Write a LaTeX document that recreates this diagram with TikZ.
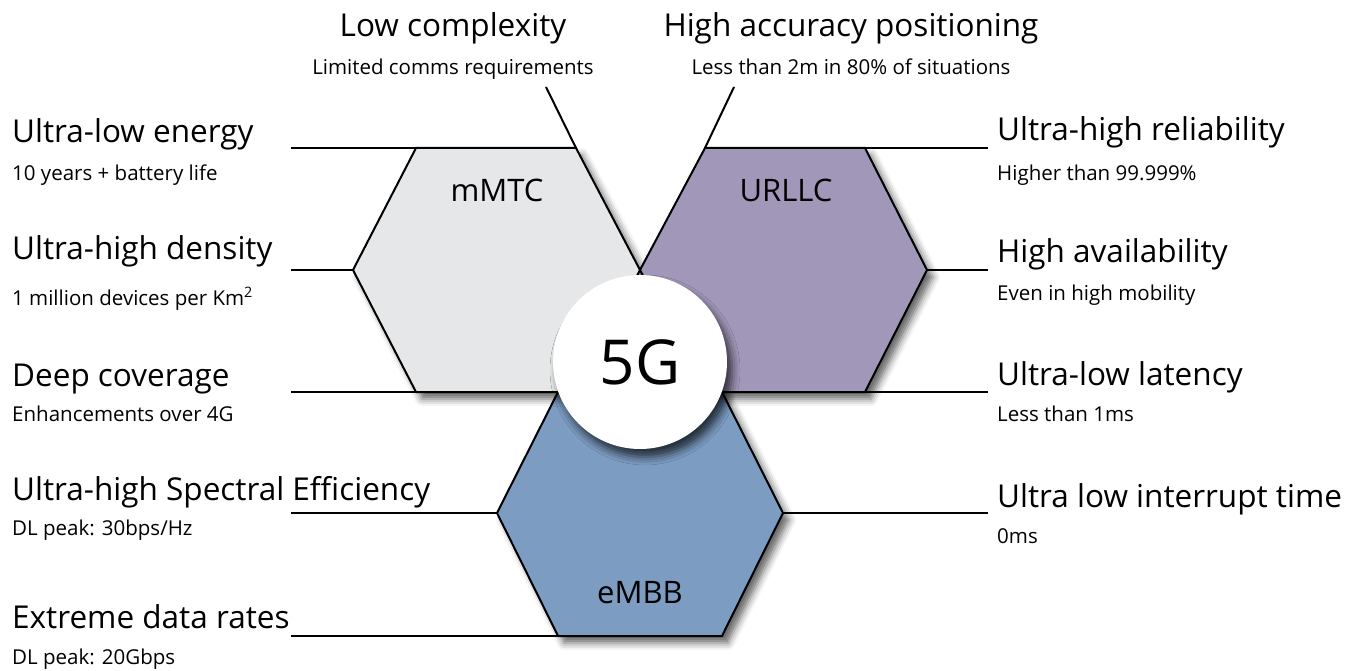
\documentclass[tikz,border=0pt]{standalone}
\usepackage{fontspec}
\setmainfont{Open Sans}
\usetikzlibrary{shadows.blur}
\definecolor{mmtcgray}{RGB}{230,231,232}
\definecolor{urllcpurple}{RGB}{161,151,185}
\definecolor{embbblue}{RGB}{124,156,194}
\tikzset{
  HeadStyle/.style = { anchor = base west, inner sep = 0pt,
                       font = \fontsize{31.5}{34}\selectfont },
  SubStyle/.style = { anchor = base west, inner sep = 0pt,
                      font = \fontsize{20.5}{23}\selectfont },
  HexStyle/.style = { draw, line width = 2pt,
                      blur shadow = {shadow xshift = 6pt, shadow yshift = -7pt,
                                     shadow blur radius = 7pt, shadow opacity = 60} },
  LeadStyle/.style = { line width = 2pt } }

\begin{document}
\begin{tikzpicture}[x=1pt,y=-1pt]
  \useasboundingbox (0,0) rectangle (1356,671);
  \tikzstyle{HexLabel}=[font = \fontsize{31}{34}\selectfont]

  \coordinate (m1) at (416,148);
  \coordinate (m2) at (576,148);
  \coordinate (m3) at (640,270);
  \coordinate (m4) at (576,392);
  \coordinate (m5) at (416,392);
  \coordinate (m6) at (353,270);

  \coordinate (u1) at (705,148);
  \coordinate (u2) at (865,148);
  \coordinate (u3) at (927,270);
  \coordinate (u4) at (865,392);
  \coordinate (u5) at (705,392);
  \coordinate (u6) at (640,270);

  \coordinate (e1) at (558,392);
  \coordinate (e2) at (722,392);
  \coordinate (e3) at (783,513);
  \coordinate (e4) at (722,636);
  \coordinate (e5) at (558,636);
  \coordinate (e6) at (497,513);

  \coordinate (l1) at (291,148);
  \coordinate (l2) at (291,270);
  \coordinate (l3) at (291,392);
  \coordinate (l4) at (291,513);
  \coordinate (l5) at (291,636);
  \coordinate (r1) at (988,148);
  \coordinate (r2) at (988,270);
  \coordinate (r3) at (988,392);
  \coordinate (r4) at (988,513);
  \coordinate (t1) at (546,87);
  \coordinate (t2) at (734,87);

  \draw[HexStyle, fill = embbblue] (e1) -- (e2) -- (e3) -- (e4) -- (e5) -- (e6) -- cycle;
  \draw[HexStyle, fill = mmtcgray] (m1) -- (m2) -- (m3) -- (m4) -- (m5) -- (m6) -- cycle;
  \draw[HexStyle, fill = urllcpurple] (u1) -- (u2) -- (u3) -- (u4) -- (u5) -- (u6) -- cycle;

  \node[HexLabel] (mmtc) at (497,190) {mMTC};
  \node[HexLabel] (urllc) at (786,190) {URLLC};
  \node[HexLabel] (embb) at (640,593) {eMBB};

  \draw[LeadStyle] (l1) -- (m1);
  \draw[LeadStyle] (l2) -- (m6);
  \draw[LeadStyle] (l3) -- (m5);
  \draw[LeadStyle] (l4) -- (e6);
  \draw[LeadStyle] (l5) -- (e5);
  \draw[LeadStyle] (u2) -- (r1);
  \draw[LeadStyle] (u3) -- (r2);
  \draw[LeadStyle] (u4) -- (r3);
  \draw[LeadStyle] (e3) -- (r4);
  \draw[LeadStyle] (m2) -- (t1);
  \draw[LeadStyle] (u1) -- (t2);

  \node[circle, fill = white, minimum size = 174pt, inner sep = 0pt,
        font = \fontsize{62}{70}\selectfont,
        blur shadow = {shadow xshift = 5pt, shadow yshift = -8pt,
                       shadow blur radius = 8pt, shadow opacity = 70}] (core) at (640,362) {5G};

  \node[HeadStyle] (a1) at (12,143) {Ultra-low energy};
  \node[SubStyle] (b1) at (12,180) {10 years + battery life};
  \node[HeadStyle] (a2) at (12,259) {Ultra-high density};
  \node[SubStyle] (b2) at (12,305) {1 million devices per Km\textsuperscript{2}};
  \node[HeadStyle] (a3) at (12,386) {Deep coverage};
  \node[SubStyle] (b3) at (12,421) {Enhancements over 4G};
  \node[HeadStyle] (a4) at (12,500) {Ultra-high Spectral Efficiency};
  \node[SubStyle] (b4) at (12,535) {DL peak: 30bps/Hz};
  \node[HeadStyle] (a5) at (12,628) {Extreme data rates};
  \node[SubStyle] (b5) at (12,664) {DL peak: 20Gbps};

  \node[HeadStyle] (c1) at (997,141) {Ultra-high reliability};
  \node[SubStyle] (d1) at (997,180) {Higher than 99.999\%};
  \node[HeadStyle] (c2) at (997,262) {High availability};
  \node[SubStyle] (d2) at (997,300) {Even in high mobility};
  \node[HeadStyle] (c3) at (997,385) {Ultra-low latency};
  \node[SubStyle] (d3) at (997,421) {Less than 1ms};
  \node[HeadStyle] (c4) at (997,507) {Ultra low interrupt time};
  \node[SubStyle] (d4) at (997,543) {0ms};

  \node[HeadStyle, anchor = base] (p1) at (453,37) {Low complexity};
  \node[SubStyle, anchor = base] (q1) at (453,75) {Limited comms requirements};
  \node[HeadStyle, anchor = base] (p2) at (851,37) {High accuracy positioning};
  \node[SubStyle, anchor = base] (q2) at (851,75) {Less than 2m in 80\% of situations};

\end{tikzpicture}
\end{document}
